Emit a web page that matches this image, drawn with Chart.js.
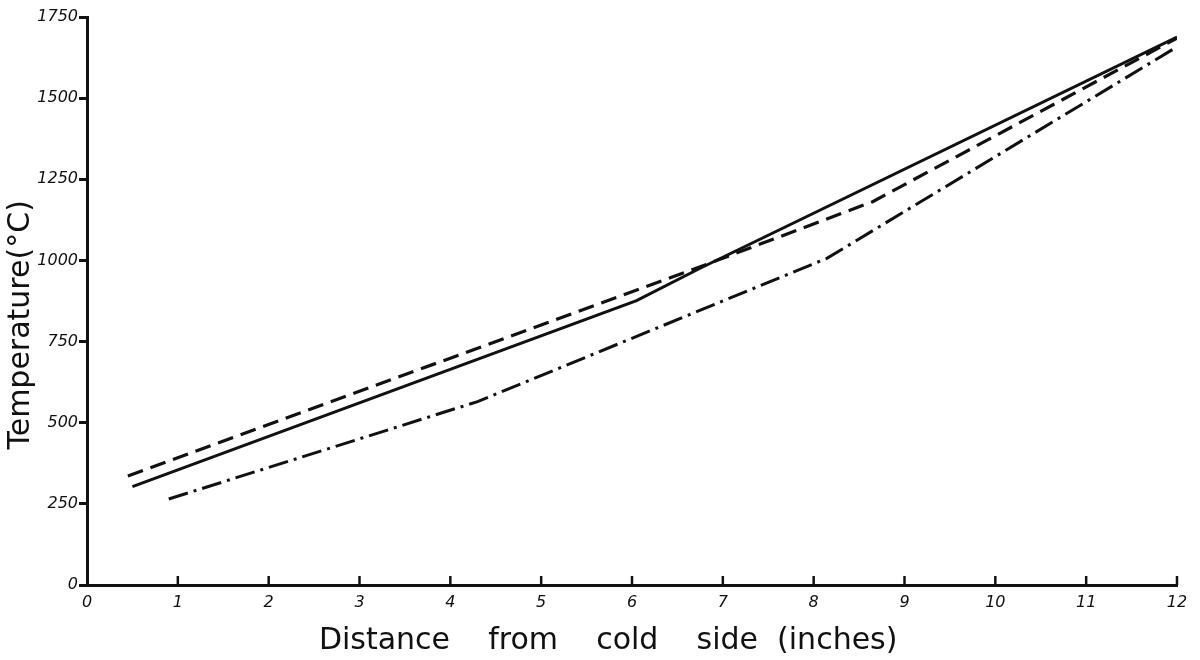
<!DOCTYPE html>
<html>
<head>
<meta charset="utf-8">
<title>Temperature vs distance from cold side</title>
<script src="https://cdn.jsdelivr.net/npm/chart.js@4.4.1/dist/chart.umd.min.js"></script>
<style>
body{margin:0;background:#fff}
canvas{display:block}
</style>
</head>
<body>
<canvas id="myChart" width="1200" height="660"></canvas>
<script>
// values
var xTicks = [0,1,2,3,4,5,6,7,8,9,10,11,12];
var yTicks = [0,250,500,750,1000,1250,1500,1750];

var solidX = [0.5, 6.05, 6.75, 12];
var solidY = [303, 876, 976, 1688];

var dashedX = [0.45, 6.65, 8.65, 12];
var dashedY = [336, 970, 1181, 1685];

var dashDotX = [0.9, 4.3, 8.15, 12];
var dashDotY = [265, 565, 1007, 1658];

var ink = '#111';
var fontName = '"DejaVu Sans", sans-serif';

function toPoints(xs, ys) //pair up x and y lists
{
   var pts = [];
   for (var i = 0; i < xs.length; i++)
      pts.push({x: xs[i], y: ys[i]});
   return pts;
}

function lineSet(name, xs, ys, dash, width)
{
   return {
      label: name,
      data: toPoints(xs, ys),
      borderColor: ink,
      borderWidth: width,
      borderDash: dash,
      borderCapStyle: 'butt',
      pointRadius: 0,
      tension: 0,
      fill: false
   };
}

function plainNum(v) //no thousands comma
{
   return String(v);
}

// small tick marks standing up from the x axis
var upTicks = {
   id: 'upTicks',
   afterDraw: function(chart)
   {
      var ctx = chart.ctx;
      var xs = chart.scales.x;
      var bottom = chart.chartArea.bottom;
      ctx.save();
      ctx.strokeStyle = ink;
      ctx.lineWidth = 2.5;
      xs.ticks.forEach(function(t) {
         if (t.value == 0) return;
         var px = xs.getPixelForValue(t.value);
         ctx.beginPath();
         ctx.moveTo(px, bottom);
         ctx.lineTo(px, bottom - 9);
         ctx.stroke();
      });
      ctx.restore();
   }
};

function createChart()
{
var ctx = document.getElementById("myChart");
var myChart = new Chart(ctx, {
    type: 'line',
    data: {
        datasets: [
            lineSet('Solid', solidX, solidY, [], 3),
            lineSet('Dashed', dashedX, dashedY, [16, 8], 3.2),
            lineSet('Dash-dot', dashDotX, dashDotY, [20, 6, 3, 6], 3)
        ]
    },
    options: {
        responsive: false,
        animation: false,
        layout: { padding: { top: 17, right: 23, left: 0, bottom: 0 } },
        plugins: {
            legend: { display: false },
            tooltip: { enabled: false }
        },
        scales: {
            x: {
                type: 'linear',
                min: 0,
                max: 12,
                afterBuildTicks: function(s) { s.ticks = xTicks.map(function(v){ return {value: v}; }); },
                afterFit: function(s) { s.height = 75; },
                ticks: { color: ink, padding: 8, callback: plainNum, font: { family: fontName, size: 16, style: 'italic' } },
                grid: { display: false, drawTicks: false },
                border: { color: ink, width: 3 },
                title: {
                    display: true,
                    text: 'Distance    from    cold    side  (inches)     ',
                    color: ink,
                    font: { family: fontName, size: 30 },
                    padding: { top: 0, bottom: 1 }
                }
            },
            y: {
                min: 0,
                max: 1750,
                afterBuildTicks: function(s) { s.ticks = yTicks.map(function(v){ return {value: v}; }); },
                afterFit: function(s) { s.width = 87; },
                ticks: { color: ink, padding: 1, callback: plainNum, font: { family: fontName, size: 16, style: 'italic' } },
                grid: { drawOnChartArea: false, drawTicks: true, tickLength: 8, color: ink, lineWidth: 3 },
                border: { color: ink, width: 3 },
                title: {
                    display: true,
                    text: 'Temperature(°C)     ',
                    color: ink,
                    font: { family: fontName, size: 30 },
                    padding: { top: 3, bottom: 0 }
                }
            }
        }
    },
    plugins: [upTicks]
});
}

createChart();
</script>
</body>
</html>
